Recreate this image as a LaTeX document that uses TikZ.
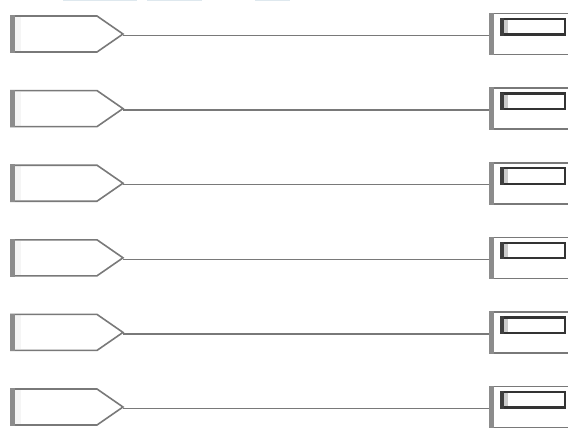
\documentclass[tikz,border=0pt]{standalone}
\begin{document}
\begin{tikzpicture}[x=1pt,y=-1pt,
  outl/.style={draw=gray!95!black,line width=1.6pt},
  thickedge/.style={fill=gray!90},
  conn/.style={draw=gray!95!black,line width=1.4pt},
  innerbox/.style={draw=black!80,line width=2.2pt,fill=white},
  topbar/.style={fill={rgb,255:red,222;green,232;blue,238},draw=none}]
\useasboundingbox (0,0) rectangle (568,428);
\fill[topbar] (63,0) rectangle (137,1.2);
\fill[topbar] (147,0) rectangle (202,1.2);
\fill[topbar] (255,0) rectangle (290,1.2);
\foreach \i in {0,...,5}{
  \pgfmathsetmacro{\c}{34+74.6*\i}
  % left pentagon
  \fill[white] (10,\c-18) -- (97,\c-18) -- (123,\c) -- (97,\c+18) -- (10,\c+18) -- cycle;
  \fill[gray!8] (15,\c-17) rectangle (21,\c+17);
  \draw[outl] (10,\c-18) -- (97,\c-18) -- (123,\c) -- (97,\c+18) -- (10,\c+18);
  \fill[thickedge] (10,\c-18.8) rectangle (15,\c+18.8);
  \coordinate (L\i) at (123,\c+1.5);
  % right box
  \draw[outl] (600,\c-20.5) -- (491.5,\c-20.5) -- (491.5,\c+20.5) -- (600,\c+20.5);
  \fill[thickedge] (489,\c-21.3) rectangle (494,\c+21.3);
  \coordinate (R\i) at (489,\c+1.5);
  \draw[innerbox] (501,\c-15) rectangle (565,\c+0.5);
  \fill[black!75] (500,\c-16) rectangle (504,\c+1.6);
  \fill[gray!40] (504,\c-13.9) rectangle (508,\c-0.6);
  \draw[conn] (L\i) -- (R\i);
}
\end{tikzpicture}
\end{document}
